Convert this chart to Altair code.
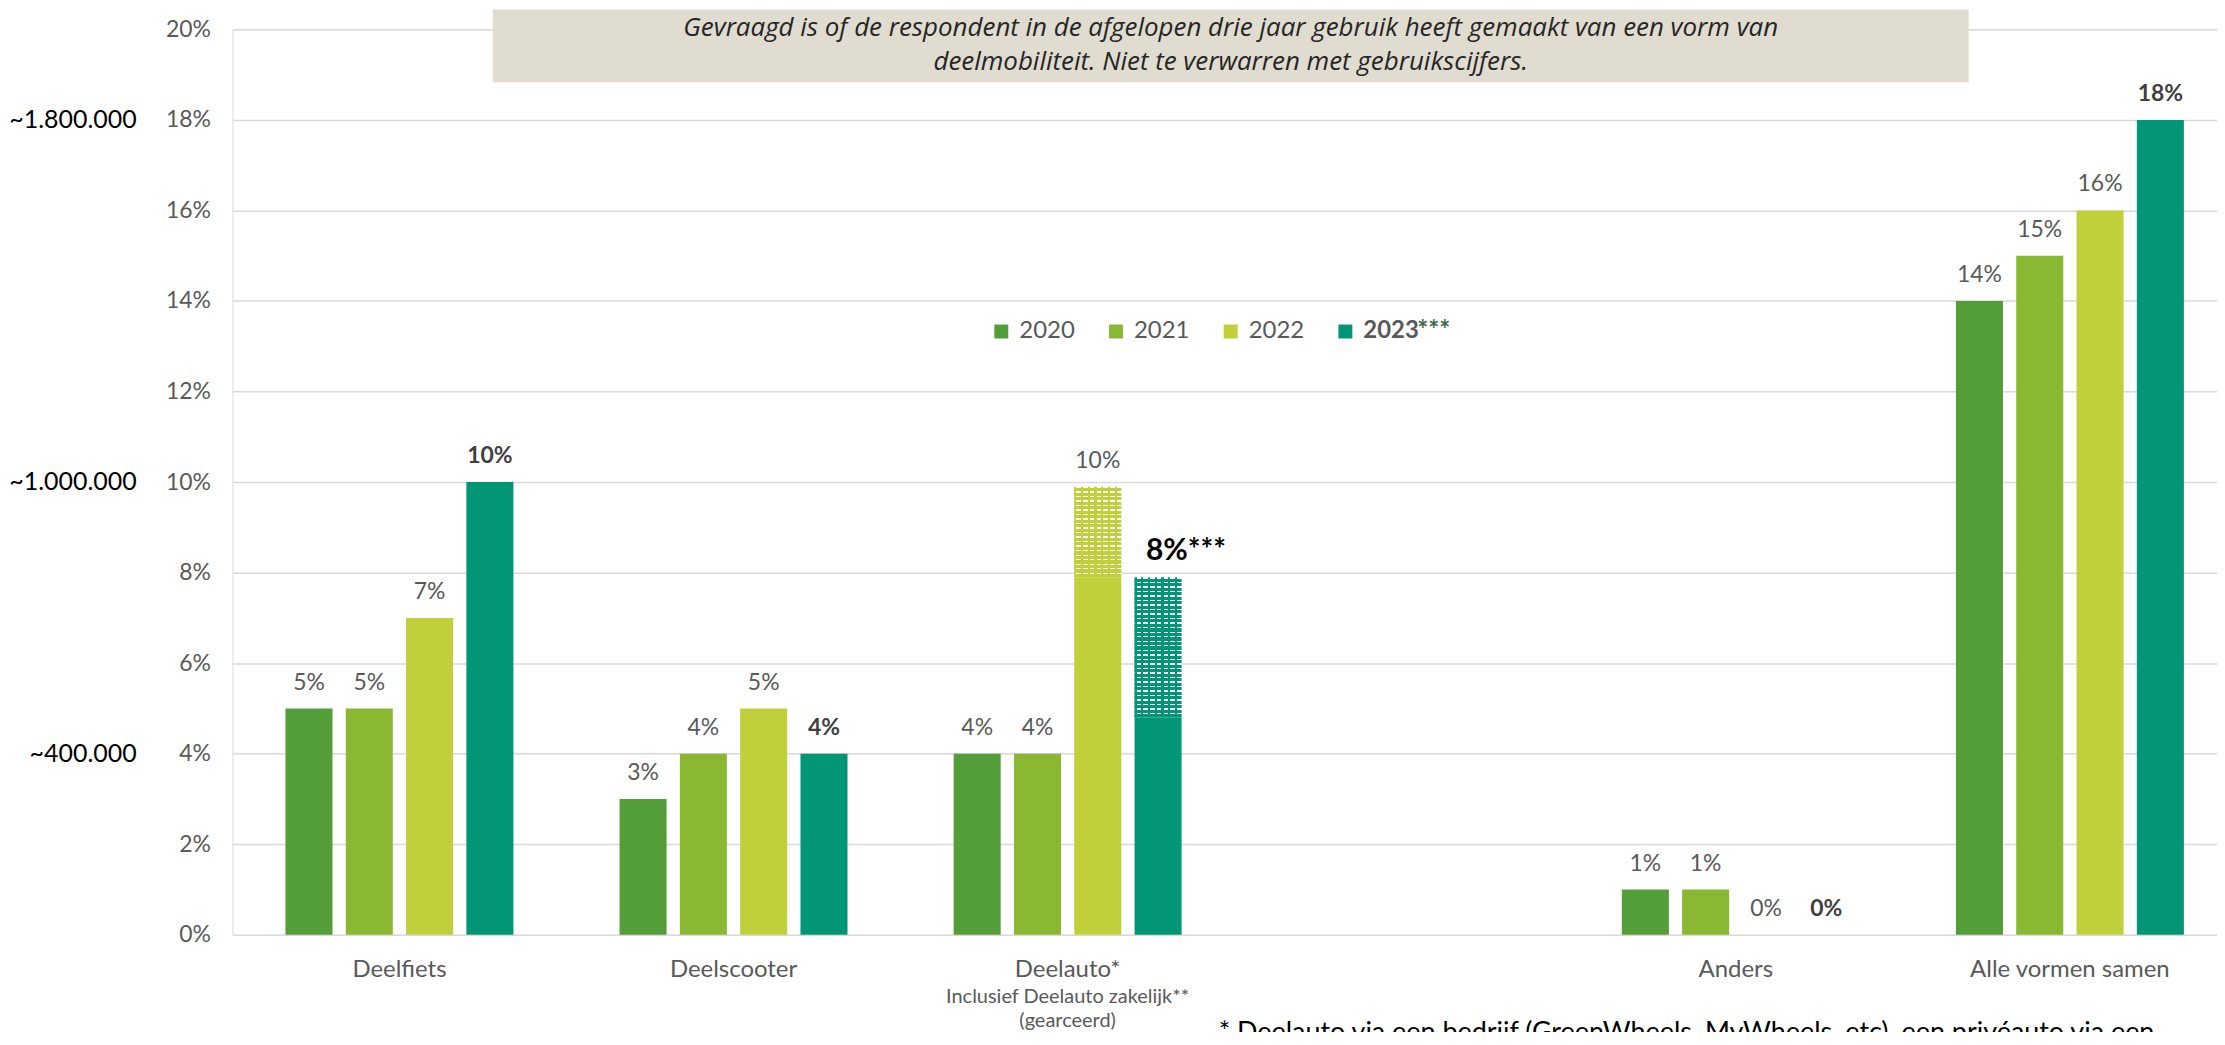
import altair as alt
import pandas as pd

FONT = "Lato"

categories = ["Deelfiets", "Deelscooter", "Deelauto*", " ", "Anders", "Alle vormen samen"]
years = ["2020", "2021", "2022", "2023"]
colors = ["#549E39", "#8AB833", "#C0CF3A", "#029676"]

# solid bar values (%) per year, one per category (None = no bar)
v2020 = [5, 3, 4, None, 1, 14]
v2021 = [5, 4, 4, None, 1, 15]
v2022 = [7, 5, 7.9, None, 0, 16]
v2023 = [10, 4, 4.8, None, 0, 18]

# totals including "Deelauto zakelijk" (hatched part on top of the solid bar)
hatched_cells = [("Deelauto*", "2022"), ("Deelauto*", "2023")]
hatched_totals = [9.9, 7.9]
starred_cells = [("Deelauto*", "2023")]

# secondary left labels (approx. population)
pop_values = [18, 10, 4]
pop_labels = ["~1.800.000", "~1.000.000", "~400.000"]

title_line1 = "Gevraagd is of de respondent in de afgelopen drie jaar gebruik heeft gemaakt van een vorm van"
title_line2 = "deelmobiliteit. Niet te verwarren met gebruikscijfers."
sub_label = "Inclusief Deelauto zakelijk**\n(gearceerd)"
footnote = "* Deelauto via een bedrijf (GreenWheels, MyWheels, etc), een privéauto via een"

series = {"2020": v2020, "2021": v2021, "2022": v2022, "2023": v2023}
tot_map = dict(zip(hatched_cells, hatched_totals))
rows = []
for yr in years:
    for cat, v in zip(categories, series[yr]):
        if v is None:
            continue
        tot = tot_map.get((cat, yr), v)
        lab = f"{round(tot)}%"
        star = (cat, yr) in starred_cells
        if star:
            lab += "***"
        rows.append(dict(cat=cat, year=yr, value=v, total=tot, label=lab,
                         star=star, hatched=(cat, yr) in tot_map))
df = pd.DataFrame(rows)

W, H = 1990, 908
GRAY = "#595959"

x_enc = alt.X("cat:N", sort=categories,
              scale=alt.Scale(domain=categories, range=[0, 2010], paddingInner=0, paddingOuter=0),
              axis=alt.Axis(title=None, ticks=False, domain=False, labelAngle=0, labelLimit=0,
                            labelFont=FONT, labelFontSize=24, labelColor=GRAY, labelPadding=23))
xo_enc = alt.XOffset("year:N", scale=alt.Scale(domain=years, paddingInner=0.22, paddingOuter=0.88))
y_scale = alt.Scale(domain=[0, 20], nice=False, zero=True)

bars = alt.Chart(df).mark_bar().encode(
    x=x_enc,
    xOffset=xo_enc,
    y=alt.Y("value:Q", scale=y_scale,
            axis=alt.Axis(title=None, values=list(range(0, 21, 2)), labelExpr="datum.value + '%'",
                          ticks=False, domain=False, gridColor="#D9D9D9", gridWidth=1.5,
                          labelFont=FONT, labelFontSize=23, labelColor=GRAY, labelPadding=22)),
    color=alt.Color("year:N", scale=alt.Scale(domain=years, range=colors),
                    legend=alt.Legend(title=None, orient="none", legendX=759, legendY=291,
                                      direction="horizontal", symbolType="square", symbolSize=196,
                                      symbolStrokeWidth=0, symbolOpacity=1, labelFont=FONT,
                                      labelFontSize=24, labelColor=GRAY, labelOffset=6,
                                      columnPadding=29, padding=0,
                                      labelFontWeight={"expr": "datum.label == '2023' ? 'bold' : 'normal'"})),
)


def row_stops(color, n, frac_white):
    stops = []
    for i in range(n):
        a, b, c = i / n, (i + frac_white) / n, (i + 1) / n
        stops += [alt.GradientStop(color="#FFFFFF", offset=a), alt.GradientStop(color="#FFFFFF", offset=b),
                  alt.GradientStop(color=color, offset=b), alt.GradientStop(color=color, offset=c)]
    return stops


def col_stops(color, n, frac_color):
    stops = []
    for i in range(n):
        a, b, c = i / n, (i + frac_color) / n, (i + 1) / n
        stops += [alt.GradientStop(color=color, offset=a), alt.GradientStop(color=color, offset=b),
                  alt.GradientStop(color="rgba(255,255,255,0)", offset=b),
                  alt.GradientStop(color="rgba(255,255,255,0)", offset=c)]
    return stops


hatch_layers = []
for (cat, yr), tot in zip(hatched_cells, hatched_totals):
    color = colors[years.index(yr)]
    v = series[yr][categories.index(cat)]
    n_rows = max(1, round((tot - v) * (H / 20) / 4.5))
    base = alt.Chart(df).transform_filter(
        (alt.datum.cat == cat) & (alt.datum.year == yr))
    enc = dict(x=alt.X("cat:N", sort=categories), xOffset=alt.XOffset("year:N"),
               y=alt.Y("value:Q"), y2="total:Q")
    hatch_layers.append(base.mark_bar(fill=alt.LinearGradient(
        gradient="linear", x1=0, x2=0, y1=0, y2=1, stops=row_stops(color, n_rows, 0.3))).encode(**enc))
    hatch_layers.append(base.mark_bar(fill=alt.LinearGradient(
        gradient="linear", x1=0, x2=1, y1=0, y2=0, stops=col_stops(color, 7, 0.33))).encode(**enc))

lab_enc = dict(x=alt.X("cat:N", sort=categories), xOffset=alt.XOffset("year:N"),
               y=alt.Y("total:Q"), text="label:N")
labels_reg = alt.Chart(df).transform_filter(alt.datum.year != "2023").mark_text(
    font=FONT, fontSize=23, color=GRAY, baseline="middle", dy=-26).encode(**lab_enc)
labels_bold = alt.Chart(df).transform_filter(
    (alt.datum.year == "2023") & (alt.datum.star == False)).mark_text(
    font=FONT, fontSize=23, fontWeight="bold", color="#404040", baseline="middle", dy=-26).encode(**lab_enc)
labels_star = alt.Chart(df).transform_filter(alt.datum.star == True).mark_text(
    font=FONT, fontSize=30, fontWeight="bold", color="#000000", baseline="middle", dy=-26, dx=28).encode(**lab_enc)

pop = alt.Chart(pd.DataFrame({"v": pop_values, "t": pop_labels})).mark_text(
    font=FONT, fontSize=25, color="#000000", align="right", baseline="middle").encode(
    x=alt.value(-96), y=alt.Y("v:Q"), text="t:N")

one = pd.DataFrame({"k": [0]})
title_box = alt.Chart(one).mark_rect(color="#E1DCD0").encode(
    x=alt.value(261), x2=alt.value(1741), y=alt.value(-20), y2=alt.value(53))
title_style = dict(font="Open Sans", fontSize=26, fontStyle="italic", color="#262626",
                   align="center", baseline="middle")
title1 = alt.Chart(one).mark_text(text=title_line1, **title_style).encode(
    x=alt.value(1001), y=alt.value(-1))
title2 = alt.Chart(one).mark_text(text=title_line2, **title_style).encode(
    x=alt.value(1001), y=alt.value(33))

sub = alt.Chart(pd.DataFrame({"cat": ["Deelauto*"], "t": [sub_label]})).mark_text(
    lineBreak="\n", lineHeight=24, font=FONT, fontSize=20, color=GRAY, align="center",
    baseline="top").encode(x=alt.X("cat:N", sort=categories), y=alt.value(960), text="t:N")

foot = alt.Chart(one).mark_text(
    text=footnote, font=FONT, fontSize=27, color="#000000", align="left", baseline="top").encode(
    x=alt.value(989), y=alt.value(993))

legend_stars = alt.Chart(one).mark_text(
    text="***", font=FONT, fontSize=26, fontWeight="bold", color="#3D6B4F", align="left",
    baseline="alphabetic").encode(x=alt.value(1188), y=alt.value(311))

chart = alt.layer(
    title_box, title1, title2, bars, *hatch_layers, labels_reg, labels_bold, labels_star,
    pop, sub, foot, legend_stars
).properties(
    width=W, height=H,
    padding={"left": 225, "top": 20, "right": 0, "bottom": 96},
    autosize=alt.AutoSizeParams(type="none"),
).configure_view(stroke=None).configure(background="#FFFFFF")

chart.save("out.html", embed_options={"renderer": "svg", "actions": False})
